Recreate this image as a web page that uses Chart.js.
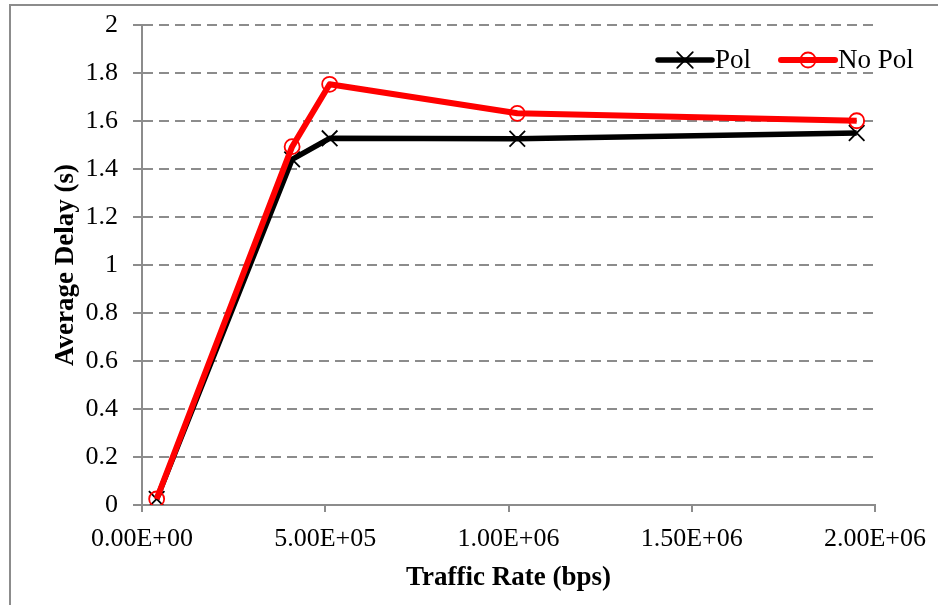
<!DOCTYPE html>
<html>
<head>
<meta charset="utf-8">
<script src="https://cdn.jsdelivr.net/npm/chart.js@4/dist/chart.umd.min.js"></script>
<style>
  html, body { margin: 0; padding: 0; background: #fff; overflow: hidden; }
  #wrap { position: relative; width: 938px; height: 605px; }
  #frame { position: absolute; left: 9px; top: 4px; width: 960px; height: 640px; border: 2px solid #8c8c8c; }
  #chart { position: absolute; left: 0; top: 0; }
</style>
</head>
<body>
<div id="wrap">
  <div id="frame"></div>
  <canvas id="chart" width="938" height="605"></canvas>
</div>
<script>
// traffic rate (bps) vs average delay (s)
const rates = [40000, 409600, 512000, 1024000, 1950000]
const polDelay = [0.025, 1.44, 1.528, 1.526, 1.55]
const noPolDelay = [0.025, 1.493, 1.753, 1.632, 1.601]

const xTicks = [0, 500000, 1000000, 1500000, 2000000]
const xTickLabels = ['0.00E+00', '5.00E+05', '1.00E+06', '1.50E+06', '2.00E+06']
const yTicks = [0, 0.2, 0.4, 0.6, 0.8, 1, 1.2, 1.4, 1.6, 1.8, 2]
const yTickLabels = ['0', '0.2', '0.4', '0.6', '0.8', '1', '1.2', '1.4', '1.6', '1.8', '2']

const FONT = "'Liberation Serif', 'Times New Roman', serif"
const GRID = '#8c8c8c'

const toPoints = (xs, ys) => xs.map((x, i) => ({ x, y: ys[i] }))

// legend drawn as line + marker + label, like the series themselves
const lineLegend = {
  id: 'lineLegend',
  afterDraw(chart) {
    const ctx = chart.ctx
    const y = 60
    let x = 658
    ctx.save()
    ctx.font = `27px ${FONT}`
    ctx.textBaseline = 'middle'
    chart.data.datasets.slice().reverse().forEach(ds => {
      const len = 54, mid = x + len / 2
      ctx.strokeStyle = ds.borderColor
      ctx.lineWidth = ds.borderWidth
      ctx.lineCap = 'round'
      ctx.beginPath(); ctx.moveTo(x, y); ctx.lineTo(x + len, y); ctx.stroke()
      ctx.lineWidth = ds.pointBorderWidth
      ctx.beginPath()
      if (ds.pointStyle === 'crossRot') {
        const d = ds.pointRadius * Math.SQRT1_2
        ctx.moveTo(mid - d, y - d); ctx.lineTo(mid + d, y + d)
        ctx.moveTo(mid + d, y - d); ctx.lineTo(mid - d, y + d)
      } else {
        ctx.arc(mid, y, ds.pointRadius, 0, Math.PI * 2)
      }
      ctx.stroke()
      ctx.fillStyle = '#000'
      ctx.fillText(ds.label, x + len + 3, y + 1)
      x += len + 3 + ctx.measureText(ds.label).width + 30
    })
    ctx.restore()
  }
}

new Chart(document.getElementById('chart'), {
  type: 'line',
  data: {
    datasets: [
      {
        label: 'No Pol',
        data: toPoints(rates, noPolDelay),
        borderColor: '#ff0000',
        borderWidth: 6,
        borderJoinStyle: 'round',
        pointStyle: 'circle',
        pointRadius: 7.5,
        pointBorderWidth: 1.8,
        pointBorderColor: '#ff0000',
        pointBackgroundColor: 'rgba(0,0,0,0)',
        tension: 0,
        order: 0
      },
      {
        label: 'Pol',
        data: toPoints(rates, polDelay),
        borderColor: '#000000',
        borderWidth: 5.5,
        borderJoinStyle: 'round',
        pointStyle: 'crossRot',
        pointRadius: 11,
        pointBorderWidth: 1.8,
        pointBorderColor: '#000000',
        tension: 0,
        order: 1
      }
    ]
  },
  options: {
    responsive: false,
    animation: false,
    devicePixelRatio: 1,
    layout: { padding: { left: 0, top: 25, right: 63, bottom: 0 } },
    plugins: { legend: { display: false }, tooltip: { enabled: false } },
    scales: {
      x: {
        type: 'linear',
        min: 0,
        max: 2000000,
        afterBuildTicks: s => { s.ticks = xTicks.map(v => ({ value: v })) },
        afterFit: s => { s.height = 100; s.paddingLeft = 0; s.paddingRight = 0 },
        ticks: {
          color: '#000',
          font: { family: FONT, size: 26 },
          padding: 12,
          maxRotation: 0,
          callback: (v, i) => xTickLabels[i]
        },
        grid: { drawOnChartArea: false, color: GRID, lineWidth: 2, tickLength: 7 },
        border: { color: GRID, width: 2 },
        title: {
          display: true,
          text: 'Traffic Rate (bps)',
          color: '#000',
          font: { family: FONT, size: 27, weight: 'bold' },
          padding: { top: 0, bottom: 11 }
        }
      },
      y: {
        min: 0,
        max: 2,
        afterBuildTicks: s => { s.ticks = yTicks.map(v => ({ value: v })) },
        afterFit: s => { s.width = 142; s.paddingTop = 0; s.paddingBottom = 0 },
        ticks: {
          color: '#000',
          font: { family: FONT, size: 26 },
          padding: 15,
          callback: (v, i) => yTickLabels[i]
        },
        grid: { color: GRID, lineWidth: 2, tickLength: 9 },
        border: { color: GRID, width: 2, dash: [10, 6] },
        title: {
          display: true,
          text: 'Average Delay (s)',
          color: '#000',
          font: { family: FONT, size: 27, weight: 'bold' },
          padding: { top: 50, bottom: 0 }
        }
      }
    }
  },
  plugins: [lineLegend]
})
</script>
</body>
</html>
